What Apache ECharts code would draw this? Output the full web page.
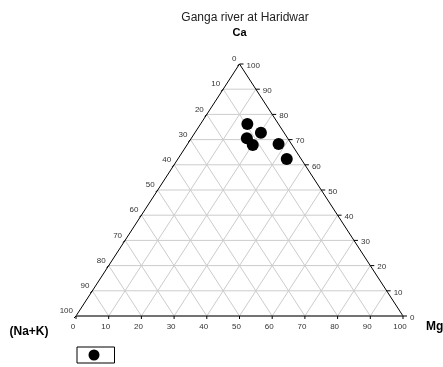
<!DOCTYPE html>
<html>
<head>
<meta charset="utf-8">
<script src="https://cdn.jsdelivr.net/npm/echarts@6/dist/echarts.min.js"></script>
<style>html,body{margin:0;padding:0;background:#fff}#c{width:443px;height:367px}</style>
</head>
<body>
<div id="c"></div>
<script>
// Ternary composition (percent)
const sampleCa  = [76.2, 72.7, 70.5, 67.9, 68.3, 62.3];
const sampleMg  = [14.3, 20.2, 17.0, 20.1, 27.8, 33.3];
const sampleNaK = [9.5, 7.1, 12.5, 12.0, 3.9, 4.4];
const tickValues = [0, 10, 20, 30, 40, 50, 60, 70, 80, 90, 100];
const titleText = 'Ganga river at Haridwar';
const apexLabels = { top: 'Ca', right: 'Mg', left: '(Na+K)' };

// ternary -> cartesian (x: 0..100 along base, y: Ca 0..100)
function toXY(ca, mg, nak) {
  const s = ca + mg + nak;
  const c = ca / s * 100, m = mg / s * 100;
  return [m + c / 2, c];
}
const points = sampleCa.map((c, i) => toXY(c, sampleMg[i], sampleNaK[i]));

const FONT = 'Liberation Sans, Arial, sans-serif';

function renderFrame(params, api) {
  const ch = [];
  const P = (xy) => api.coord(xy);
  const line = (a, b, stroke, w) => ch.push({type: 'line', shape: {x1: a[0], y1: a[1], x2: b[0], y2: b[1]}, style: {stroke: stroke, lineWidth: w}, silent: true});
  const text = (x, y, t, align, va, size, color, weight) => ch.push({type: 'text', x: x, y: y, style: {text: t, align: align, verticalAlign: va, fontSize: size, fontFamily: FONT, fill: color, fontWeight: weight || 'normal'}, silent: true});
  const grid = '#cccccc';
  tickValues.forEach(k => {
    if (k === 0 || k === 100) return;
    line(P(toXY(k, 0, 100 - k)), P(toXY(k, 100 - k, 0)), grid, 1);
    line(P(toXY(0, k, 100 - k)), P(toXY(100 - k, k, 0)), grid, 1);
    line(P(toXY(0, 100 - k, k)), P(toXY(100 - k, 0, k)), grid, 1);
  });
  const A = P(toXY(100, 0, 0)), B = P(toXY(0, 100, 0)), C = P(toXY(0, 0, 100));
  line(C, A, '#000', 1);
  line(A, B, '#000', 1);
  line(C, B, '#444', 1.6);
  tickValues.forEach(k => {
    const b = P(toXY(0, k, 100 - k));
    line(b, [b[0], b[1] + 3], '#000', 1);
    text(b[0] - 3, b[1] + 11, String(k), 'center', 'middle', 8, '#333');
    const r = P(toXY(k, 100 - k, 0));
    line(r, [r[0] + 4, r[1]], '#000', 1);
    text(r[0] + 7, r[1] + 1.5, String(k), 'left', 'middle', 8, '#333');
    const l = P(toXY(100 - k, 0, k));
    line(l, [l[0] - 2, l[1] + 2], '#000', 1);
    text(l[0] - 3, l[1] - 5, String(k), 'right', 'middle', 8, '#333');
  });
  text(A[0], A[1] - 31, apexLabels.top, 'center', 'middle', 11, '#000', 'bold');
  text(B[0] + 23, B[1] + 11, apexLabels.right, 'left', 'middle', 12, '#000', 'bold');
  text(C[0] - 47, C[1] + 16, apexLabels.left, 'center', 'middle', 12, '#000', 'bold');
  return {type: 'group', children: ch};
}

const chart = echarts.init(document.getElementById('c'), null, {renderer: 'canvas'});
chart.setOption({
  animation: false,
  backgroundColor: '#fff',
  title: {text: titleText, left: 240, top: 7, textAlign: 'center', textStyle: {fontSize: 12, fontWeight: 'normal', color: '#222', fontFamily: FONT}},
  grid: {left: 76, right: 40, top: 64, bottom: 51},
  xAxis: {type: 'value', min: 0, max: 100, show: false},
  yAxis: {type: 'value', min: 0, max: 100, show: false},
  legend: {
    left: 77, top: 347, orient: 'horizontal',
    borderColor: '#000', borderWidth: 1, borderRadius: 0,
    padding: [2.5, 15, 2.5, 11.5], itemWidth: 11, itemHeight: 11, itemGap: 0,
    formatter: () => '', textStyle: {fontSize: 1},
    itemStyle: {opacity: 1},
    data: [{name: 'Haridwar', icon: 'circle'}]
  },
  series: [
    {type: 'custom', name: 'frame', coordinateSystem: 'cartesian2d', clip: false, silent: true, z: 1,
     renderItem: renderFrame, data: [[0, 0]]},
    {type: 'scatter', name: 'Haridwar', symbol: 'circle', symbolSize: 12, z: 5,
     itemStyle: {color: '#000', opacity: 1}, data: points}
  ]
});
</script>
</body>
</html>
